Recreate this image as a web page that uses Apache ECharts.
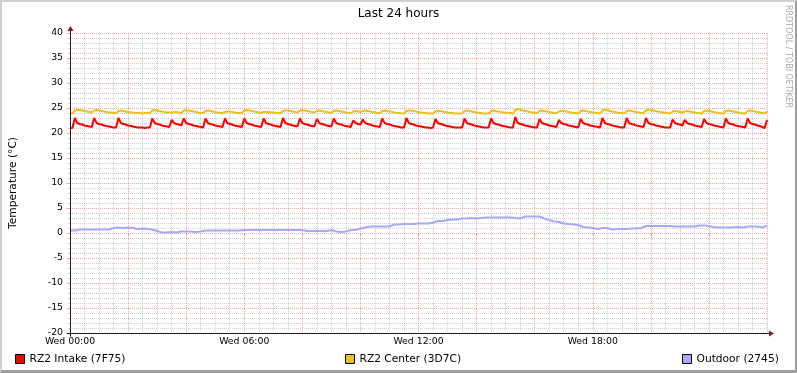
<!DOCTYPE html>
<html><head><meta charset="utf-8">
<script src="https://cdn.jsdelivr.net/npm/echarts@6/dist/echarts.min.js"></script>
<style>
html,body{margin:0;padding:0;background:#fff}
#wrap{position:relative;width:797px;height:373px}
#c{width:797px;height:373px}
#b{position:absolute;left:0;top:0;width:797px;height:373px;box-sizing:border-box;border-style:solid;border-width:2px 2px 3px 2px;border-color:#cfcfcf #9e9e9e #9e9e9e #cfcfcf;pointer-events:none}
</style>
</head><body>
<div id="wrap"><div id="c"></div><div id="b"></div></div>
<script>
// Time axis in minutes since Wed 00:00; red/yellow sampled every 5 min, outdoor every 10 min
const stepFast = 5;
const stepSlow = 10;
const xTickLabels = ['Wed 00:00', 'Wed 06:00', 'Wed 12:00', 'Wed 18:00'];
const seriesNames = ['RZ2 Intake (7F75)', 'RZ2 Center (3D7C)', 'Outdoor (2745)'];

const intake = [21.0,21.0,
23.0,22.0,21.8,21.7,21.5,21.4,21.3,21.2,
23.0,22.0,21.8,21.7,21.5,21.4,21.3,21.2,21.1,21.1,
23.0,22.0,21.8,21.7,21.5,21.4,21.3,21.2,21.1,21.1,21.1,21.0,21.1,21.1,
22.9,22.0,21.8,21.7,21.5,21.4,21.3,21.2,
22.6,22.0,21.8,21.7,21.5,
22.9,22.0,21.8,21.7,21.5,21.4,21.3,21.2,21.1,
22.9,22.0,21.8,21.7,21.5,21.4,21.3,21.2,
22.9,22.0,21.8,21.7,21.5,21.4,21.3,21.2,
22.9,22.0,21.8,21.7,21.5,21.4,21.3,21.2,
22.9,22.0,21.8,21.7,21.5,21.4,21.3,21.2,
23.0,22.0,21.8,21.7,21.5,21.4,21.3,
22.9,22.0,21.8,21.7,21.5,21.4,21.3,
22.8,22.0,21.8,21.7,21.5,21.4,21.3,
22.9,22.0,21.8,21.7,21.5,21.4,21.3,21.2,
22.5,22.0,21.8,21.7,
22.7,22.0,21.8,21.7,21.5,21.4,21.3,21.2,
22.9,22.0,21.8,21.7,21.5,21.4,21.3,21.2,21.1,21.1,
23.0,22.0,21.8,21.7,21.5,21.4,21.3,21.2,21.1,21.1,21.0,21.1,
22.8,22.0,21.8,21.7,21.5,21.4,21.3,21.2,21.1,21.1,21.1,21.1,
22.9,22.0,21.8,21.7,21.5,21.4,21.3,21.2,21.1,21.1,21.1,
22.9,22.0,21.8,21.7,21.5,21.4,21.3,21.2,21.1,21.1,
23.2,22.0,21.8,21.7,21.5,21.4,21.3,21.2,21.1,21.1,
22.8,22.0,21.8,21.7,21.5,21.4,21.3,21.2,
22.6,22.0,21.8,21.7,21.5,21.4,21.3,21.2,21.1,
22.8,22.0,21.8,21.7,21.5,21.4,21.3,21.2,21.1,
23.0,22.0,21.8,21.7,21.5,21.4,21.3,21.2,21.1,21.1,
23.0,22.0,21.8,21.7,21.5,21.4,21.3,21.2,
23.0,22.0,21.8,21.7,21.5,21.4,21.3,21.2,21.1,21.1,21.1,
22.7,22.0,21.8,21.7,21.5,
22.6,22.0,21.8,21.7,21.5,21.4,21.3,21.2,
22.8,22.0,21.8,21.7,21.5,21.4,21.3,21.2,21.1,
22.9,22.0,21.8,21.7,21.5,21.4,21.3,21.2,21.1,
22.9,22.0,21.8,21.7,21.5,21.4,21.2,21.0,
22.6];

const center = [23.9,23.9,
24.5,24.6,24.6,24.5,24.4,24.3,24.2,24.1,
24.5,24.6,24.5,24.4,24.3,24.2,24.1,24.1,24.0,24.0,
24.4,24.5,24.4,24.3,24.2,24.1,24.1,24.0,24.0,24.0,23.9,24.0,24.0,24.0,
24.5,24.6,24.5,24.4,24.3,24.2,24.1,24.1,
24.1,24.2,24.2,24.1,24.0,
24.5,24.6,24.5,24.4,24.3,24.2,24.1,24.0,24.0,
24.4,24.5,24.4,24.3,24.2,24.1,24.0,24.0,
24.2,24.3,24.3,24.2,24.1,24.0,24.0,24.0,
24.5,24.6,24.5,24.4,24.3,24.2,24.1,24.0,
24.2,24.2,24.2,24.1,24.1,24.0,24.0,24.0,
24.4,24.5,24.5,24.4,24.3,24.2,24.1,
24.5,24.6,24.5,24.4,24.3,24.2,24.1,
24.4,24.5,24.4,24.3,24.2,24.1,24.0,
24.4,24.5,24.4,24.3,24.2,24.1,24.0,24.0,
24.3,24.4,24.3,24.2,
24.4,24.5,24.4,24.3,24.2,24.1,24.0,24.0,
24.4,24.5,24.4,24.3,24.2,24.1,24.0,24.0,23.9,23.9,
24.4,24.5,24.5,24.4,24.3,24.2,24.1,24.0,24.0,23.9,23.9,23.9,
24.3,24.4,24.4,24.3,24.2,24.1,24.0,24.0,23.9,23.9,23.9,23.9,
24.4,24.5,24.4,24.3,24.2,24.1,24.0,24.0,23.9,23.9,23.9,
24.4,24.5,24.4,24.3,24.2,24.1,24.0,24.0,24.0,23.9,
24.6,24.8,24.7,24.5,24.4,24.3,24.2,24.1,24.0,24.0,
24.4,24.5,24.4,24.3,24.2,24.1,24.0,24.0,
24.3,24.4,24.4,24.3,24.2,24.1,24.0,24.0,23.9,
24.4,24.5,24.4,24.3,24.2,24.1,24.0,24.0,23.9,
24.5,24.7,24.6,24.4,24.3,24.2,24.1,24.0,24.0,23.9,
24.4,24.5,24.4,24.3,24.2,24.1,24.0,24.0,
24.5,24.7,24.6,24.5,24.4,24.3,24.2,24.1,24.0,24.0,23.9,
24.3,24.4,24.3,24.2,24.1,
24.3,24.4,24.3,24.2,24.1,24.0,24.0,23.9,
24.4,24.5,24.4,24.3,24.2,24.1,24.0,23.9,23.9,
24.4,24.5,24.4,24.3,24.2,24.1,24.0,23.9,23.9,
24.4,24.5,24.4,24.3,24.2,24.1,24.0,23.9,
24.3];

const outdoor = [0.5,0.5,0.7,0.7,0.7,0.7,0.7,0.7,0.7,
1.0,1.1,1.0,1.1,1.0,0.8,0.9,0.8,0.7,
0.4,0.1,0.1,0.2,0.1,0.3,0.3,0.3,0.2,0.3,
0.5,0.5,0.5,0.5,0.5,0.5,0.5,0.5,
0.6,0.6,0.6,0.6,0.6,0.6,0.6,0.6,0.6,0.6,0.6,0.6,0.6,
0.4,0.4,0.4,0.4,0.4,0.6,0.3,0.2,0.3,0.6,0.6,
0.9,1.1,1.3,1.3,1.3,1.3,1.3,1.7,1.7,1.8,1.8,1.8,
1.9,1.9,1.9,2.1,2.4,2.4,2.6,2.7,2.7,2.9,2.9,3.0,2.9,3.0,
3.1,3.1,3.1,3.1,3.1,3.1,3.0,2.9,3.3,3.3,3.3,3.3,2.9,2.6,
2.3,2.2,1.9,1.8,1.7,1.6,1.2,1.1,1.0,0.8,1.0,1.0,
0.7,0.8,0.8,0.8,0.9,0.9,1.0,1.4,1.4,1.4,1.4,1.4,1.4,
1.3,1.3,1.3,1.3,1.3,1.5,1.5,1.4,1.2,1.1,1.1,1.1,1.1,1.2,1.1,1.3,1.3,1.3,1.1,1.5];

const colors = ['#ff0000', '#e9c120', '#a8a8f8'];
const FONT = '"DejaVu Sans", sans-serif';
const GRID = 'rgba(150,150,150,0.45)';
const MGRID = 'rgba(222,79,79,0.5)';

const chart = echarts.init(document.getElementById('c'), null, {renderer: 'canvas'});

function toPairs(arr, step) { return arr.map((v, i) => [i * step, v]); }

const legendCommon = {
  orient: 'horizontal', padding: 0, top: 353, itemWidth: 9, itemHeight: 9, icon: 'rect',
  itemStyle: {borderColor: '#000', borderWidth: 1}, selectedMode: false,
  textStyle: {fontSize: 10.67, color: '#000', fontFamily: FONT, lineHeight: 12}
};

const option = {
  animation: false,
  backgroundColor: '#ffffff',
  textStyle: {fontFamily: FONT},
  title: {text: 'Last 24 hours', left: 'center', top: 8, padding: 0,
    textStyle: {fontSize: 12, fontWeight: 'normal', color: '#000', fontFamily: FONT}},
  legend: [
    Object.assign({data: [seriesNames[0]], left: 15}, legendCommon),
    Object.assign({data: [seriesNames[1]], left: 345}, legendCommon),
    Object.assign({data: [seriesNames[2]], left: 682}, legendCommon)
  ],
  grid: {left: 67, right: 30, top: 33, bottom: 40, containLabel: false},
  xAxis: {
    type: 'value', min: 0, max: 1440, interval: 120,
    axisLine: {show: false},
    axisTick: {show: true, length: 3, lineStyle: {color: MGRID}},
    minorTick: {show: false, splitNumber: 4},
    axisLabel: {
      fontSize: 9.33, color: '#000', margin: 4, fontFamily: FONT,
      showMaxLabel: false,
      formatter: v => (v % 360 === 0 && v < 1440) ? xTickLabels[v / 360] : ''
    },
    splitLine: {show: true, lineStyle: {color: MGRID, type: [1, 1], width: 1}},
    minorSplitLine: {show: true, lineStyle: {color: GRID, type: [1, 1], width: 1}}
  },
  yAxis: {
    type: 'value', min: -20, max: 40, interval: 5,
    axisLine: {show: false},
    axisTick: {show: true, length: 3, lineStyle: {color: MGRID}},
    minorTick: {show: true, splitNumber: 5, length: 2, lineStyle: {color: GRID}},
    axisLabel: {fontSize: 9.33, color: '#000', margin: 7, fontFamily: FONT},
    splitLine: {show: true, lineStyle: {color: MGRID, type: [1, 1], width: 1}},
    minorSplitLine: {show: true, lineStyle: {color: GRID, type: [1, 1], width: 1}},
    name: 'Temperature (°C)', nameLocation: 'middle', nameGap: 51, nameRotate: 90,
    nameTextStyle: {fontSize: 10.67, color: '#000', fontFamily: FONT}
  },
  series: [
    {name: seriesNames[0], type: 'line', data: toPairs(intake, stepFast), showSymbol: false, symbol: 'none',
      lineStyle: {width: 2, color: colors[0]}, itemStyle: {color: colors[0]}},
    {name: seriesNames[1], type: 'line', data: toPairs(center, stepFast), showSymbol: false, symbol: 'none',
      lineStyle: {width: 2, color: colors[1]}, itemStyle: {color: colors[1]}},
    {name: seriesNames[2], type: 'line', data: toPairs(outdoor, stepSlow), showSymbol: false, symbol: 'none',
      lineStyle: {width: 2, color: colors[2]}, itemStyle: {color: colors[2]}}
  ]
};
chart.setOption(option);

const x0 = chart.convertToPixel({xAxisIndex: 0}, 0);
const x1 = chart.convertToPixel({xAxisIndex: 0}, 1440);
const yTop = chart.convertToPixel({yAxisIndex: 0}, 40);
const yBot = chart.convertToPixel({yAxisIndex: 0}, -20);
const ax = Math.floor(x0) + 0.5, ay = Math.floor(yBot) + 0.5;
chart.setOption({
  graphic: [
    {type: 'line', z: 50, shape: {x1: ax, y1: ay + 3, x2: ax, y2: yTop - 2}, style: {stroke: '#1f1f1f', lineWidth: 1}},
    {type: 'polygon', z: 50, shape: {points: [[ax, yTop - 7], [ax - 3, yTop - 2], [ax + 3, yTop - 2]]}, style: {fill: '#801f1f'}},
    {type: 'line', z: 50, shape: {x1: ax - 4, y1: ay, x2: x1 + 2, y2: ay}, style: {stroke: '#1f1f1f', lineWidth: 1}},
    {type: 'polygon', z: 50, shape: {points: [[x1 + 7, ay], [x1 + 2, ay - 3], [x1 + 2, ay + 3]]}, style: {fill: '#801f1f'}},
    {type: 'text', z: 50, x: 788, y: 5, rotation: -Math.PI / 2,
      style: {text: 'RRDTOOL / TOBI OETIKER', font: '8px "DejaVu Sans"', fill: '#a8a8a8', align: 'left', verticalAlign: 'middle'}}
  ]
});
</script>
</body></html>
